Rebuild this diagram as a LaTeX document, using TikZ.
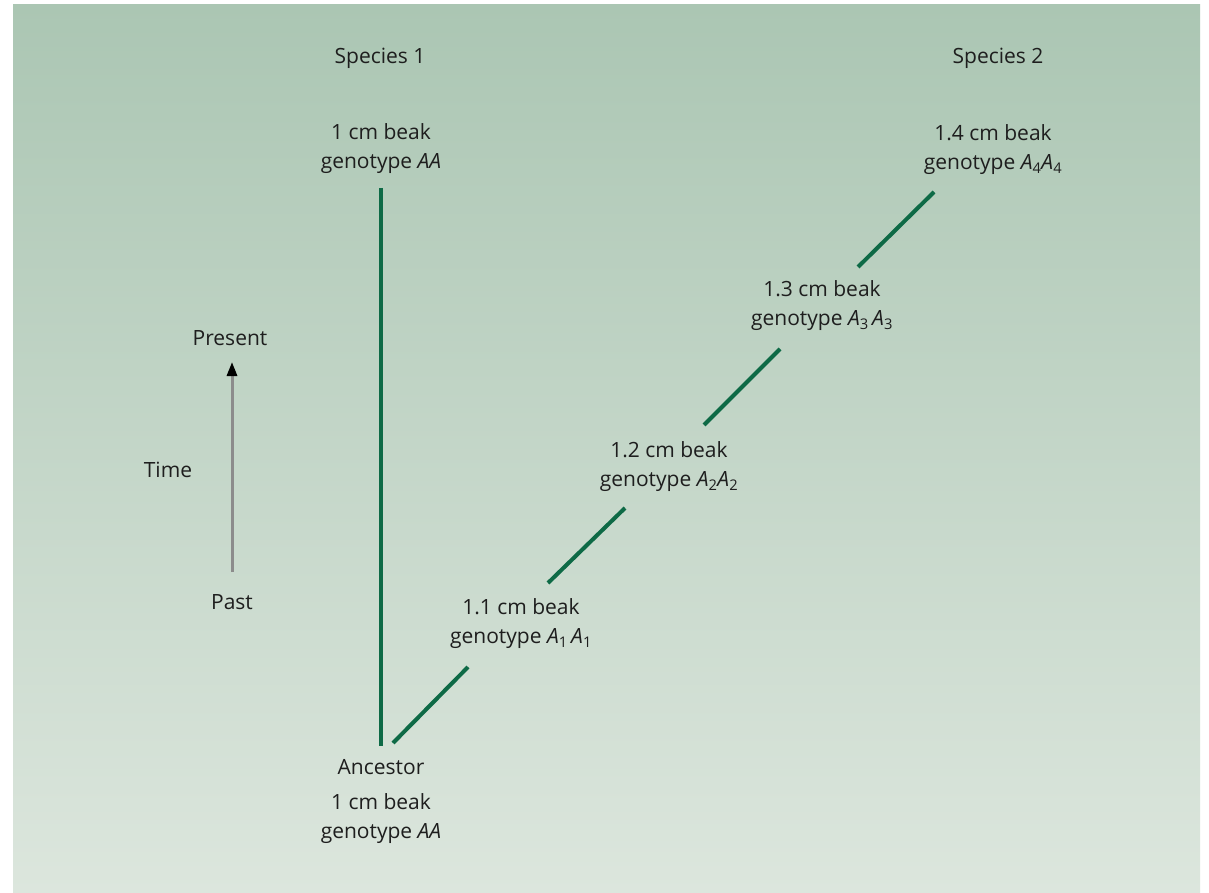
\documentclass[tikz,border=0pt]{standalone}
\usepackage{fontspec}
\setmainfont{Open Sans}
\usetikzlibrary{arrows.meta}
\definecolor{bgtop}{HTML}{ABC6B3}
\definecolor{bgbot}{HTML}{DCE6DD}
\definecolor{branch}{HTML}{0E6A46}
\definecolor{txt}{HTML}{1E1E1E}
\definecolor{shaft}{HTML}{8C8C8C}
\newcommand\gA[1]{\textit{A}\textsubscript{#1}}
\tikzset{
  lbl/.style={text=txt, font=\fontsize{21}{29}\selectfont, align=center, inner sep=0pt},
  branchline/.style={draw=branch, line width=4pt},
}
\begin{document}
\begin{tikzpicture}[x=1pt,y=-1pt]
\useasboundingbox (0,0) rectangle (1209,893);
\fill[white] (0,0) rectangle (1209,893);
\shade[top color=bgtop, bottom color=bgbot] (13,5) rectangle (1200,893);

% species headers
\node[lbl] (sp1) at (380,58) {Species 1};
\node[lbl] (sp2) at (998,58) {Species 2};

% labels
\node[lbl] (s1) at (381,149) {1 cm beak\\genotype \textit{AA}};
\node[lbl] (anc) at (381,767) {Ancestor};
\node[lbl] (ancg) at (381,819) {1 cm beak\\genotype \textit{AA}};
\node[lbl] (g1) at (521,624) {1.1 cm beak\\genotype \gA{1}\,\gA{1}};
\node[lbl] (g2) at (669,467) {1.2 cm beak\\genotype \gA{2}\gA{2}};
\node[lbl] (g3) at (822,306) {1.3 cm beak\\genotype \gA{3}\,\gA{3}};
\node[lbl] (g4) at (993,150) {1.4 cm beak\\genotype \gA{4}\gA{4}};

% time axis
\node[lbl] (present) at (230,338) {Present};
\node[lbl] (time) at (168,470) {Time};
\node[lbl] (past) at (232,602) {Past};
\coordinate (tb) at (232,572);
\coordinate (tt) at (232,362);
\draw[shaft, line width=3pt, -{Triangle[length=14pt,width=10pt,fill=black,color=black]}] (tb) -- (tt);

% branch endpoints
\coordinate (v0) at (381,188);
\coordinate (v1) at (381,746);
\coordinate (d0a) at (393,743);
\coordinate (d0b) at (468,667);
\coordinate (d1a) at (548,583);
\coordinate (d1b) at (625,508);
\coordinate (d2a) at (704,425);
\coordinate (d2b) at (780,349);
\coordinate (d3a) at (858,267);
\coordinate (d3b) at (934,192);

\draw[branchline] (v0) -- (v1);
\draw[branchline] (d0a) -- (d0b);
\draw[branchline] (d1a) -- (d1b);
\draw[branchline] (d2a) -- (d2b);
\draw[branchline] (d3a) -- (d3b);
\end{tikzpicture}
\end{document}
